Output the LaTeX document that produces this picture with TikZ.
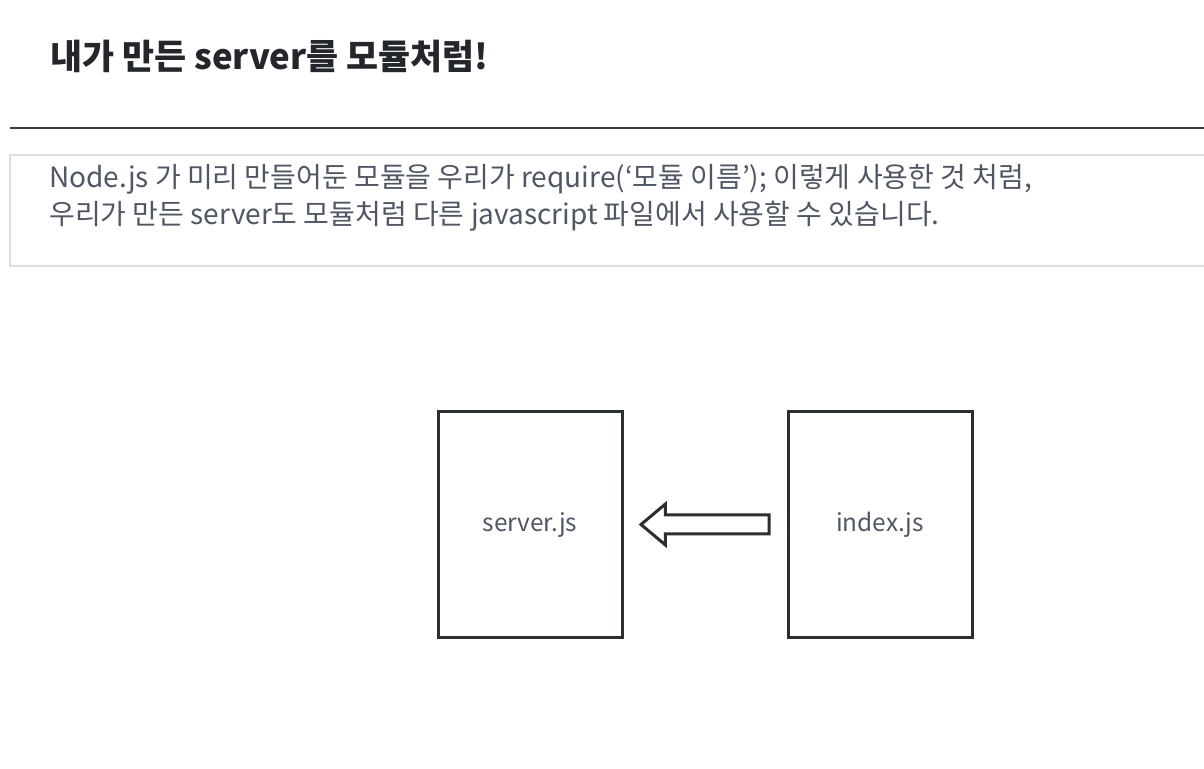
\documentclass[tikz,border=0pt]{standalone}
\usepackage{fontspec}
\setmainfont{Noto Sans CJK KR}
\usetikzlibrary{positioning,shapes.arrows}
\definecolor{titleink}{HTML}{23272C}
\definecolor{bodyink}{HTML}{4F5765}
\definecolor{rulegrey}{HTML}{3A3D41}
\definecolor{panelgrey}{HTML}{DCDDDE}
\definecolor{boxedge}{HTML}{2B2F34}

\begin{document}
\begin{tikzpicture}[x=0.5pt,y=-0.5pt,
  filebox/.style={draw=boxedge,line width=1.5pt,minimum width=92pt,minimum height=112.5pt,
                  inner sep=0pt,font=\fontsize{12.2pt}{14pt}\selectfont,text=bodyink},
  bigarrow/.style={single arrow,draw=boxedge,fill=white,line width=1.5pt,inner sep=4pt,
                   minimum height=64pt,single arrow head extend=5.5pt,single arrow tip angle=80,
                   shape border rotate=180}]
\useasboundingbox[fill=white] (0,0) rectangle (1204,769);
% heading and rule
\node[anchor=west,inner sep=0pt,text=titleink,font=\fontsize{17.4pt}{20pt}\selectfont\bfseries]
  (title) at (50,56) {내가 만든 server를 모듈처럼!};
\draw[rulegrey,line width=0.9pt] (10,128) -- (1204,128);
% text panel
\draw[panelgrey,line width=0.8pt] (1210,155) -| (10,266) -- (1210,266);
\node[anchor=north west,inner sep=0pt,align=left,text=bodyink,
      font=\fontsize{14pt}{18.5pt}\selectfont] (intro) at (49,164)
  {Node.js 가 미리 만들어둔 모듈을 우리가 require(‘모듈 이름’); 이렇게 사용한 것 처럼,\\
   우리가 만든 server도 모듈처럼 다른 javascript 파일에서 사용할 수 있습니다.};
% the two files
\node[filebox] (srv) at (530,524.5) {server.js};
\node[filebox] (idx) at (880,524.5) {index.js};
\node[bigarrow,left=8pt of idx] (req) {};
\end{tikzpicture}
\end{document}
